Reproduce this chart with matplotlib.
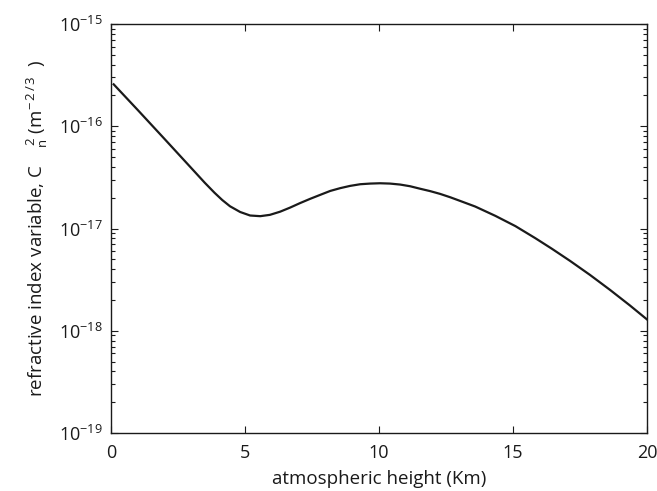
import matplotlib
matplotlib.use("Agg")
import matplotlib.pyplot as plt
from matplotlib.ticker import FixedLocator, NullFormatter

# Atmospheric height (km) and refractive index structure parameter Cn^2 (m^-2/3)
height_km = [0.1, 1.0, 2.0, 3.0, 3.5, 3.86, 4.15, 4.44, 4.82, 5.19, 5.57, 5.93, 6.31,
             6.68, 7.05, 7.43, 7.80, 8.18, 8.55, 8.92, 9.30, 9.67, 10.04, 10.41,
             10.79, 11.16, 11.53, 11.91, 12.28, 12.66, 13.03, 13.59, 14.34, 15.09,
             15.83, 16.45, 17.13, 17.87, 18.62, 19.36, 20.0]
cn2 = [2.57e-16, 1.44e-16, 7.50e-17, 3.89e-17, 2.80e-17, 2.24e-17, 1.90e-17,
       1.65e-17, 1.45e-17, 1.34e-17, 1.32e-17, 1.36e-17, 1.46e-17, 1.60e-17,
       1.77e-17, 1.95e-17, 2.13e-17, 2.33e-17, 2.48e-17, 2.61e-17, 2.71e-17,
       2.75e-17, 2.77e-17, 2.75e-17, 2.69e-17, 2.59e-17, 2.45e-17, 2.32e-17,
       2.18e-17, 2.02e-17, 1.86e-17, 1.64e-17, 1.33e-17, 1.055e-17, 8.05e-18,
       6.34e-18, 4.82e-18, 3.52e-18, 2.51e-18, 1.77e-18, 1.29e-18]
x_ticks = [0, 5, 10, 15, 20]
y_exponents = [-19, -18, -17, -16, -15]

plt.rcParams['font.family'] = ['Open Sans', 'DejaVu Sans']
plt.rcParams['mathtext.fontset'] = 'custom'
plt.rcParams['mathtext.rm'] = 'Open Sans'
plt.rcParams['mathtext.it'] = 'Open Sans'
plt.rcParams['mathtext.default'] = 'rm'

fig = plt.figure(figsize=(6.57, 4.91), dpi=100)
ax = fig.add_axes([111/657, 1-433/491, (647-111)/657, (433-24)/491])

ax.plot(height_km, cn2, color='#1a1a1a', lw=1.6)
ax.set_yscale('log')
ax.set_xlim(0, 20)
ax.set_ylim(1e-19, 1e-15)
ax.xaxis.set_major_locator(FixedLocator(x_ticks))
major_y = [10.0 ** e for e in y_exponents]
minor_y = [m * 10.0 ** e for e in y_exponents[:-1] for m in range(2, 10)]
ax.yaxis.set_major_locator(FixedLocator(major_y))
ax.yaxis.set_minor_locator(FixedLocator(minor_y))
ax.set_yticklabels([r'$10^{%d}$' % e for e in y_exponents])
ax.yaxis.set_minor_formatter(NullFormatter())

ax.tick_params(axis='both', which='both', direction='in', top=True, right=True,
               labelsize=13, colors='#1a1a1a', width=0.8)
ax.tick_params(axis='both', which='major', length=5)
ax.tick_params(axis='y', which='minor', length=3)
ax.tick_params(axis='x', which='major', pad=8)
ax.tick_params(axis='y', which='major', pad=6)
for s in ax.spines.values():
    s.set_linewidth(1.0)
    s.set_color('#1a1a1a')

ax.set_xlabel('atmospheric height (Km)', fontsize=13.5, color='#1a1a1a', labelpad=6)
ax.set_ylabel(r'refractive index variable, C$\quad_{n}^{\,2}$ (m$^{-\,2\,/\,3}$  )',
              fontsize=13.5, color='#1a1a1a', labelpad=6)

fig.savefig('out.png', dpi=100)
